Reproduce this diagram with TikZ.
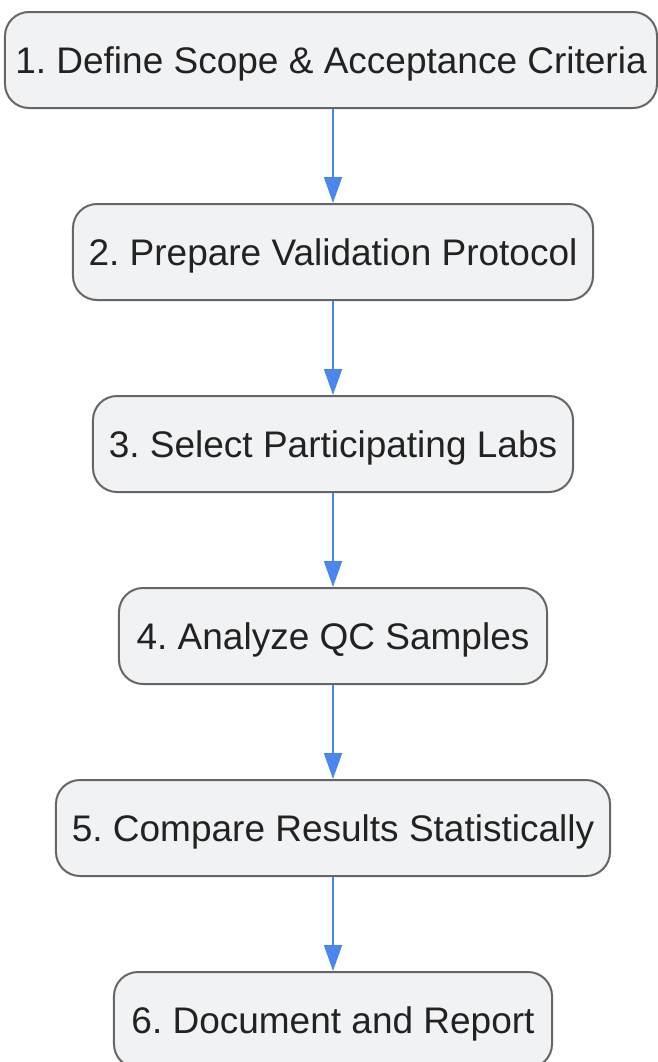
\documentclass[tikz,border=0pt]{standalone}
\usepackage{fontspec}
\setmainfont{Liberation Sans}
\usetikzlibrary{arrows.meta}
\definecolor{boxfill}{HTML}{F1F2F4}
\definecolor{boxdraw}{HTML}{666666}
\definecolor{arr}{HTML}{4A86F0}
\definecolor{txt}{HTML}{222222}
\begin{document}
\frenchspacing
\begin{tikzpicture}[x=1bp,y=-1bp,
  stepbox/.style={draw=boxdraw, line width=2bp, fill=boxfill, rounded corners=24bp,
    minimum height=96bp, inner sep=0pt, text=txt, text height=26.5bp, text depth=0pt,
    font=\fontsize{37bp}{44bp}\selectfont},
  flow/.style={draw=arr, line width=2bp, -{Triangle[length=26bp,width=18bp]}}]
\useasboundingbox (0,0) rectangle (658,1062);
\node[stepbox, minimum width=652bp] (s1) at (331,60) {1. Define Scope \& Acceptance Criteria};
\node[stepbox, minimum width=520bp] (s2) at (333,252) {2. Prepare Validation Protocol};
\node[stepbox, minimum width=480bp] (s3) at (333,444) {3. Select Participating Labs};
\node[stepbox, minimum width=428bp] (s4) at (333,636) {4. Analyze QC Samples};
\node[stepbox, minimum width=554bp] (s5) at (333,828) {5. Compare Results Statistically};
\node[stepbox, minimum width=438bp] (s6) at (333,1020) {6. Document and Report};
\draw[flow] (s1.south -| s2.north) -- (s2.north);
\draw[flow] (s2) -- (s3);
\draw[flow] (s3) -- (s4);
\draw[flow] (s4) -- (s5);
\draw[flow] (s5) -- (s6);
\end{tikzpicture}
\end{document}
